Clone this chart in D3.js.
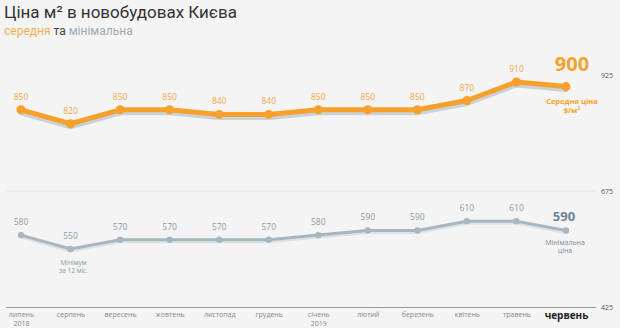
<!DOCTYPE html>
<html>
<head>
<meta charset="utf-8">
<script src="https://cdn.jsdelivr.net/npm/d3@7"></script>
<style>
  html, body { margin: 0; padding: 0; background: #f4f4f4; }
  svg { display: block; }
</style>
</head>
<body>
<svg id="chart" width="620" height="328"></svg>
<script>
// Months (x axis), with a year caption under the first month of each year
const months = ["липень", "серпень", "вересень", "жовтень", "листопад", "грудень",
                "січень", "лютий", "березень", "квітень", "травень", "червень"];
const years = ["2018", "", "", "", "", "", "2019", "", "", "", "", ""];
// Price per m², USD
const avgPrice = [850, 820, 850, 850, 840, 840, 850, 850, 850, 870, 910, 900];
const minPrice = [580, 550, 570, 570, 570, 570, 580, 590, 590, 610, 610, 590];
const yTicks = [425, 675, 925];

const W = 620, H = 328;
const svg = d3.select("#chart");

const x = d3.scalePoint().domain(months).range([21, 566]);
const y = d3.scaleLinear().domain([425, 925]).range([307, 75]);

const ORANGE = "#f7a12c";
const ORANGE_TXT = "#f2a84a";
const GREY = "#a8b7bf";
const GREY_TXT = "#8c9ba4";
const SHADOW = "#c9d2d8";

// Title
svg.append("text")
  .attr("x", 4).attr("y", 18)
  .attr("font-family", "Roboto, sans-serif")
  .attr("font-size", 17).attr("fill", "#333")
  .text("Ціна м² в новобудовах Києва");

const sub = svg.append("text")
  .attr("x", 4).attr("y", 35)
  .attr("font-family", "Roboto, sans-serif")
  .attr("font-size", 12);
sub.append("tspan").attr("fill", "#f5ad57").text("середня");
sub.append("tspan").attr("fill", "#444").text(" та ");
sub.append("tspan").attr("fill", "#9aabb5").text("мінімальна");

// Grid line at the middle tick
svg.append("line")
  .attr("x1", 6).attr("x2", 596)
  .attr("y1", y(675)).attr("y2", y(675))
  .attr("stroke", "#e6e6e6").attr("stroke-width", 1);

// Right-side value ticks
svg.append("g").selectAll("text").data(yTicks).join("text")
  .attr("x", 607).attr("y", d => y(d) + 3)
  .attr("text-anchor", "middle")
  .attr("font-family", "Open Sans, sans-serif")
  .attr("font-size", 7).attr("fill", "#555")
  .text(d => d);

// Bottom axis
const xAxis = d3.axisBottom(x).tickSize(0).tickPadding(0).tickFormat(() => "");
const axG = svg.append("g").attr("transform", `translate(0,${y(425)})`).call(xAxis);
axG.select(".domain").attr("d", `M6,0.5H596`).attr("stroke", "#9a9a9a").attr("stroke-width", 1.2);

axG.selectAll(".tick").each(function(d, i) {
  const g = d3.select(this);
  const last = i === months.length - 1;
  g.append("text")
    .attr("y", last ? 12 : 10)
    .attr("text-anchor", "middle")
    .attr("font-family", "Open Sans, sans-serif")
    .attr("font-size", last ? 10 : 7)
    .attr("font-weight", last ? "bold" : "normal")
    .attr("fill", last ? "#222" : "#888")
    .text(d);
  if (years[i]) {
    g.append("text")
      .attr("y", 19)
      .attr("text-anchor", "middle")
      .attr("font-family", "Open Sans, sans-serif")
      .attr("font-size", 7).attr("fill", "#888")
      .text(years[i]);
  }
});

const line = d3.line().x((d, i) => x(months[i])).y(d => y(d));

function drawSeries(values, color, shadow, width, r, shOff) {
  const g = svg.append("g");
  g.append("path").datum(values)
    .attr("d", line).attr("transform", `translate(0,${shOff})`)
    .attr("fill", "none").attr("stroke", shadow).attr("stroke-width", width)
    .attr("stroke-linejoin", "round").attr("stroke-linecap", "round");
  g.append("path").datum(values)
    .attr("d", line)
    .attr("fill", "none").attr("stroke", color).attr("stroke-width", width)
    .attr("stroke-linejoin", "round");
  g.selectAll("circle").data(values).join("circle")
    .attr("cx", (d, i) => x(months[i])).attr("cy", d => y(d))
    .attr("r", r).attr("fill", color);
  return g;
}

drawSeries(avgPrice, ORANGE, SHADOW, 5, 4.5, 3);
drawSeries(minPrice, GREY, "#dde2e5", 3, 3.2, 2);

// Value labels (all but the last month, which gets a big label)
function valueLabels(values, color) {
  svg.append("g").selectAll("text").data(values.slice(0, -1)).join("text")
    .attr("x", (d, i) => x(months[i]))
    .attr("y", d => y(d) - 10)
    .attr("text-anchor", "middle")
    .attr("font-family", "Open Sans, sans-serif")
    .attr("font-size", 8.5).attr("fill", color)
    .text(d => d);
}
valueLabels(avgPrice, ORANGE_TXT);
valueLabels(minPrice, GREY_TXT);

const lastX = x(months[months.length - 1]);
const lastAvg = avgPrice[avgPrice.length - 1];
const lastMin = minPrice[minPrice.length - 1];

svg.append("text")
  .attr("x", lastX + 6).attr("y", y(lastAvg) - 16)
  .attr("text-anchor", "middle")
  .attr("font-family", "Open Sans, sans-serif")
  .attr("font-size", 20).attr("font-weight", "bold").attr("fill", ORANGE)
  .text(lastAvg);

const avgNote = svg.append("text")
  .attr("text-anchor", "middle")
  .attr("font-family", "Open Sans, sans-serif")
  .attr("font-size", 7.5).attr("font-weight", "bold").attr("fill", ORANGE);
avgNote.append("tspan").attr("x", lastX + 6).attr("y", y(lastAvg) + 17).text("Середня ціна");
avgNote.append("tspan").attr("x", lastX + 6).attr("y", y(lastAvg) + 26).text("$/м²");

svg.append("text")
  .attr("x", lastX - 2).attr("y", y(lastMin) - 9)
  .attr("text-anchor", "middle")
  .attr("font-family", "Open Sans, sans-serif")
  .attr("font-size", 13).attr("font-weight", "bold").attr("fill", "#6f8592")
  .text(lastMin);

const minNote = svg.append("text")
  .attr("text-anchor", "middle")
  .attr("font-family", "Open Sans, sans-serif")
  .attr("font-size", 7).attr("fill", "#7a8d98");
minNote.append("tspan").attr("x", lastX - 1).attr("y", y(lastMin) + 15).text("Мінімальна");
minNote.append("tspan").attr("x", lastX - 1).attr("y", y(lastMin) + 23).text("ціна");

// Lowest minimum price of the year
const minIdx = d3.minIndex(minPrice);
const lowNote = svg.append("text")
  .attr("text-anchor", "middle")
  .attr("font-family", "Open Sans, sans-serif")
  .attr("font-size", 6.5).attr("fill", "#8c9ba4");
lowNote.append("tspan").attr("x", x(months[minIdx]) + 3).attr("y", y(minPrice[minIdx]) + 16).text("Мінімум");
lowNote.append("tspan").attr("x", x(months[minIdx]) + 3).attr("y", y(minPrice[minIdx]) + 24).text("за 12 міс.");
</script>
</body>
</html>
